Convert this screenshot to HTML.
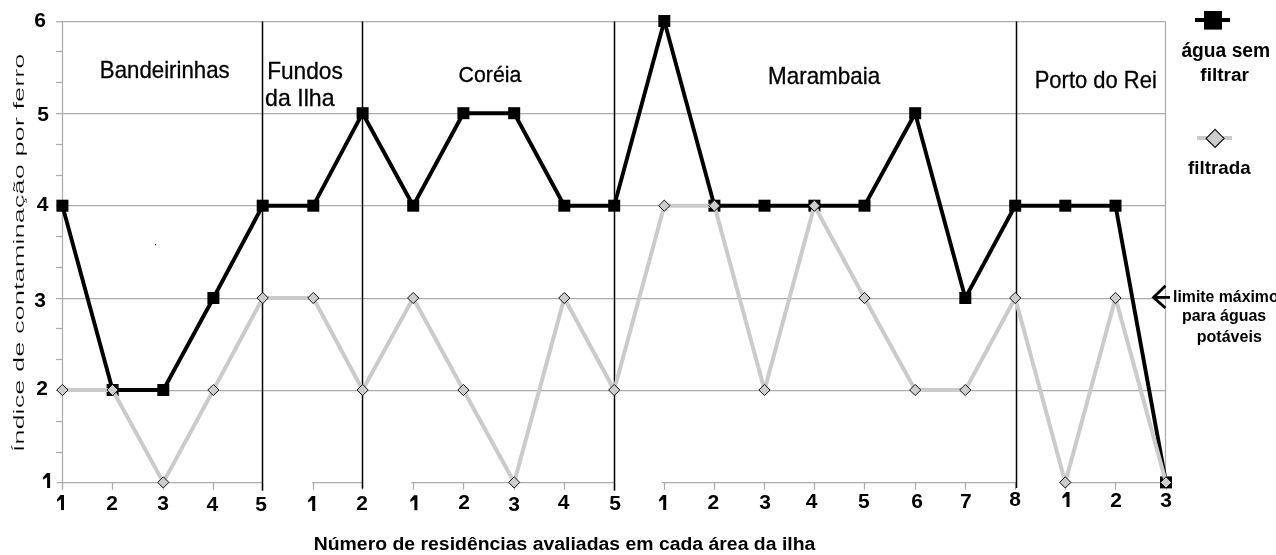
<!DOCTYPE html><html><head><meta charset="utf-8"><style>html,body{margin:0;padding:0;background:#fff;width:1276px;height:555px;overflow:hidden}svg{display:block;will-change:transform}</style></head><body>
<svg width="1276" height="555" viewBox="0 0 1276 555" font-family="&quot;Liberation Sans&quot;, sans-serif">
<rect width="1276" height="555" fill="#fff"/>
<g stroke="#acacac" stroke-width="1.25" fill="none">
<line x1="56.0" y1="390.5" x2="1165.5" y2="390.5"/>
<line x1="56.0" y1="298.5" x2="1165.5" y2="298.5"/>
<line x1="56.0" y1="205.5" x2="1165.5" y2="205.5"/>
<line x1="56.0" y1="113.5" x2="1165.5" y2="113.5"/>
<line x1="56.0" y1="21.5" x2="1165.5" y2="21.5"/>
<line x1="56.0" y1="51.5" x2="62.5" y2="51.5"/>
<line x1="56.0" y1="82.5" x2="62.5" y2="82.5"/>
<line x1="56.0" y1="144.5" x2="62.5" y2="144.5"/>
<line x1="56.0" y1="175.5" x2="62.5" y2="175.5"/>
<line x1="56.0" y1="236.5" x2="62.5" y2="236.5"/>
<line x1="56.0" y1="267.5" x2="62.5" y2="267.5"/>
<line x1="56.0" y1="328.5" x2="62.5" y2="328.5"/>
<line x1="56.0" y1="359.5" x2="62.5" y2="359.5"/>
<line x1="56.0" y1="421.5" x2="62.5" y2="421.5"/>
<line x1="56.0" y1="452.5" x2="62.5" y2="452.5"/>
<line x1="62.5" y1="21.5" x2="62.5" y2="489.7"/>
<line x1="1165.5" y1="21.5" x2="1165.5" y2="482.5"/>
<line x1="56.8" y1="482.5" x2="262.5" y2="482.5"/>
<line x1="312.1" y1="482.5" x2="362.5" y2="482.5"/>
<line x1="411.2" y1="482.5" x2="614.5" y2="482.5"/>
<line x1="661.8" y1="482.5" x2="1016.5" y2="482.5"/>
<line x1="1063.0" y1="482.5" x2="1166.0" y2="482.5"/>
<line x1="62.5" y1="482.5" x2="62.5" y2="489.7"/>
<line x1="112.5" y1="482.5" x2="112.5" y2="489.7"/>
<line x1="163.5" y1="482.5" x2="163.5" y2="489.7"/>
<line x1="213.5" y1="482.5" x2="213.5" y2="489.7"/>
<line x1="262.5" y1="482.5" x2="262.5" y2="489.7"/>
<line x1="313.5" y1="482.5" x2="313.5" y2="489.7"/>
<line x1="362.5" y1="482.5" x2="362.5" y2="489.7"/>
<line x1="413.5" y1="482.5" x2="413.5" y2="489.7"/>
<line x1="463.5" y1="482.5" x2="463.5" y2="489.7"/>
<line x1="514.5" y1="482.5" x2="514.5" y2="489.7"/>
<line x1="564.5" y1="482.5" x2="564.5" y2="489.7"/>
<line x1="614.5" y1="482.5" x2="614.5" y2="489.7"/>
<line x1="664.5" y1="482.5" x2="664.5" y2="489.7"/>
<line x1="714.5" y1="482.5" x2="714.5" y2="489.7"/>
<line x1="764.5" y1="482.5" x2="764.5" y2="489.7"/>
<line x1="814.5" y1="482.5" x2="814.5" y2="489.7"/>
<line x1="864.5" y1="482.5" x2="864.5" y2="489.7"/>
<line x1="915.5" y1="482.5" x2="915.5" y2="489.7"/>
<line x1="965.5" y1="482.5" x2="965.5" y2="489.7"/>
<line x1="1015.5" y1="482.5" x2="1015.5" y2="489.7"/>
<line x1="1065.5" y1="482.5" x2="1065.5" y2="489.7"/>
<line x1="1115.5" y1="482.5" x2="1115.5" y2="489.7"/>
<line x1="1166.5" y1="482.5" x2="1166.5" y2="489.7"/>
</g>
<line x1="262.5" y1="21.5" x2="262.5" y2="490.7" stroke="#000" stroke-width="1.5"/>
<line x1="362.5" y1="21.5" x2="362.5" y2="488.5" stroke="#000" stroke-width="1.5"/>
<line x1="614.5" y1="21.5" x2="614.5" y2="490.7" stroke="#000" stroke-width="1.5"/>
<line x1="1016.5" y1="21.5" x2="1016.5" y2="487.9" stroke="#000" stroke-width="1.5"/>
<polyline points="62.4,205.7 112.6,390.0 163.3,390.0 213.4,298.0 262.7,205.7 313.3,205.7 362.6,113.2 413.2,205.7 463.4,113.2 514.2,113.2 564.3,205.7 614.2,205.7 664.3,21.0 714.4,205.7 764.5,205.7 814.4,205.7 864.5,205.7 915.2,113.2 965.3,298.0 1015.2,205.7 1065.3,205.7 1115.5,205.7 1166.0,482.4" fill="none" stroke="#000" stroke-width="3.9" stroke-linejoin="round"/>
<rect x="56.4" y="199.7" width="12" height="12" fill="#000"/>
<rect x="106.6" y="384.0" width="12" height="12" fill="#000"/>
<rect x="157.3" y="384.0" width="12" height="12" fill="#000"/>
<rect x="207.4" y="292.0" width="12" height="12" fill="#000"/>
<rect x="256.7" y="199.7" width="12" height="12" fill="#000"/>
<rect x="307.3" y="199.7" width="12" height="12" fill="#000"/>
<rect x="356.6" y="107.2" width="12" height="12" fill="#000"/>
<rect x="407.2" y="199.7" width="12" height="12" fill="#000"/>
<rect x="457.4" y="107.2" width="12" height="12" fill="#000"/>
<rect x="508.2" y="107.2" width="12" height="12" fill="#000"/>
<rect x="558.3" y="199.7" width="12" height="12" fill="#000"/>
<rect x="608.2" y="199.7" width="12" height="12" fill="#000"/>
<rect x="658.3" y="15.0" width="12" height="12" fill="#000"/>
<rect x="708.4" y="199.7" width="12" height="12" fill="#000"/>
<rect x="758.5" y="199.7" width="12" height="12" fill="#000"/>
<rect x="808.4" y="199.7" width="12" height="12" fill="#000"/>
<rect x="858.5" y="199.7" width="12" height="12" fill="#000"/>
<rect x="909.2" y="107.2" width="12" height="12" fill="#000"/>
<rect x="959.3" y="292.0" width="12" height="12" fill="#000"/>
<rect x="1009.2" y="199.7" width="12" height="12" fill="#000"/>
<rect x="1059.3" y="199.7" width="12" height="12" fill="#000"/>
<rect x="1109.5" y="199.7" width="12" height="12" fill="#000"/>
<rect x="1160.0" y="476.4" width="12" height="12" fill="#000"/>
<polyline points="62.4,390.0 112.6,390.0 163.3,482.4 213.4,390.0 262.7,298.0 313.3,298.0 362.6,390.0 413.2,298.0 463.4,390.0 514.2,482.4 564.3,298.0 614.2,390.0 664.3,205.7 714.4,205.7 764.5,390.0 814.4,205.7 864.5,298.0 915.2,390.0 965.3,390.0 1015.2,298.0 1065.3,482.4 1115.5,298.0 1166.0,482.4" fill="none" stroke="#cbcbcb" stroke-width="4" stroke-linejoin="round"/>
<polygon points="62.4,384.4 68.0,390.0 62.4,395.6 56.8,390.0" fill="#cdcdcd" stroke="#111" stroke-width="1.0"/>
<polygon points="112.6,384.4 118.2,390.0 112.6,395.6 107.0,390.0" fill="#cdcdcd" stroke="#111" stroke-width="1.0"/>
<polygon points="163.3,476.8 168.9,482.4 163.3,488.0 157.7,482.4" fill="#cdcdcd" stroke="#111" stroke-width="1.0"/>
<polygon points="213.4,384.4 219.0,390.0 213.4,395.6 207.8,390.0" fill="#cdcdcd" stroke="#111" stroke-width="1.0"/>
<polygon points="262.7,292.4 268.3,298.0 262.7,303.6 257.1,298.0" fill="#cdcdcd" stroke="#111" stroke-width="1.0"/>
<polygon points="313.3,292.4 318.9,298.0 313.3,303.6 307.7,298.0" fill="#cdcdcd" stroke="#111" stroke-width="1.0"/>
<polygon points="362.6,384.4 368.2,390.0 362.6,395.6 357.0,390.0" fill="#cdcdcd" stroke="#111" stroke-width="1.0"/>
<polygon points="413.2,292.4 418.8,298.0 413.2,303.6 407.6,298.0" fill="#cdcdcd" stroke="#111" stroke-width="1.0"/>
<polygon points="463.4,384.4 469.0,390.0 463.4,395.6 457.8,390.0" fill="#cdcdcd" stroke="#111" stroke-width="1.0"/>
<polygon points="514.2,476.8 519.8,482.4 514.2,488.0 508.6,482.4" fill="#cdcdcd" stroke="#111" stroke-width="1.0"/>
<polygon points="564.3,292.4 569.9,298.0 564.3,303.6 558.7,298.0" fill="#cdcdcd" stroke="#111" stroke-width="1.0"/>
<polygon points="614.2,384.4 619.8,390.0 614.2,395.6 608.6,390.0" fill="#cdcdcd" stroke="#111" stroke-width="1.0"/>
<polygon points="664.3,200.1 669.9,205.7 664.3,211.3 658.7,205.7" fill="#cdcdcd" stroke="#111" stroke-width="1.0"/>
<polygon points="714.4,200.1 720.0,205.7 714.4,211.3 708.8,205.7" fill="#cdcdcd" stroke="#111" stroke-width="1.0"/>
<polygon points="764.5,384.4 770.1,390.0 764.5,395.6 758.9,390.0" fill="#cdcdcd" stroke="#111" stroke-width="1.0"/>
<polygon points="814.4,200.1 820.0,205.7 814.4,211.3 808.8,205.7" fill="#cdcdcd" stroke="#111" stroke-width="1.0"/>
<polygon points="864.5,292.4 870.1,298.0 864.5,303.6 858.9,298.0" fill="#cdcdcd" stroke="#111" stroke-width="1.0"/>
<polygon points="915.2,384.4 920.8,390.0 915.2,395.6 909.6,390.0" fill="#cdcdcd" stroke="#111" stroke-width="1.0"/>
<polygon points="965.3,384.4 970.9,390.0 965.3,395.6 959.7,390.0" fill="#cdcdcd" stroke="#111" stroke-width="1.0"/>
<polygon points="1015.2,292.4 1020.8,298.0 1015.2,303.6 1009.6,298.0" fill="#cdcdcd" stroke="#111" stroke-width="1.0"/>
<polygon points="1065.3,476.8 1070.9,482.4 1065.3,488.0 1059.7,482.4" fill="#cdcdcd" stroke="#111" stroke-width="1.0"/>
<polygon points="1115.5,292.4 1121.1,298.0 1115.5,303.6 1109.9,298.0" fill="#cdcdcd" stroke="#111" stroke-width="1.0"/>
<polygon points="1166.0,476.8 1171.6,482.4 1166.0,488.0 1160.4,482.4" fill="#cdcdcd" stroke="#111" stroke-width="1.0"/>
<text x="40.0" y="27.4" text-anchor="middle" font-weight="bold" font-size="21">6</text>
<text x="43.1" y="121.4" text-anchor="middle" font-weight="bold" font-size="21">5</text>
<text x="42.5" y="211.3" text-anchor="middle" font-weight="bold" font-size="21">4</text>
<text x="40.0" y="306.5" text-anchor="middle" font-weight="bold" font-size="21">3</text>
<text x="42.1" y="395.3" text-anchor="middle" font-weight="bold" font-size="21">2</text>
<path transform="translate(43.1,488.0)" d="M7,-15 L7,0 L4,0 L4,-10.8 L0,-8.3 L0,-10.8 L3.6,-15 Z" fill="#000"/>
<path transform="translate(57.0,510.0)" d="M7,-15 L7,0 L4,0 L4,-10.8 L0,-8.3 L0,-10.8 L3.6,-15 Z" fill="#000"/>
<text x="112.2" y="510.4" text-anchor="middle" font-weight="bold" font-size="21">2</text>
<text x="163.0" y="510.4" text-anchor="middle" font-weight="bold" font-size="21">3</text>
<text x="212.4" y="510.5" text-anchor="middle" font-weight="bold" font-size="21">4</text>
<text x="261.1" y="511.2" text-anchor="middle" font-weight="bold" font-size="21">5</text>
<path transform="translate(308.2,510.9)" d="M7,-15 L7,0 L4,0 L4,-10.8 L0,-8.3 L0,-10.8 L3.6,-15 Z" fill="#000"/>
<text x="362.0" y="510.0" text-anchor="middle" font-weight="bold" font-size="21">2</text>
<path transform="translate(410.4,510.2)" d="M7,-15 L7,0 L4,0 L4,-10.8 L0,-8.3 L0,-10.8 L3.6,-15 Z" fill="#000"/>
<text x="464.2" y="508.8" text-anchor="middle" font-weight="bold" font-size="21">2</text>
<text x="514.2" y="510.5" text-anchor="middle" font-weight="bold" font-size="21">3</text>
<text x="563.5" y="509.4" text-anchor="middle" font-weight="bold" font-size="21">4</text>
<text x="615.1" y="510.2" text-anchor="middle" font-weight="bold" font-size="21">5</text>
<path transform="translate(659.2,510.0)" d="M7,-15 L7,0 L4,0 L4,-10.8 L0,-8.3 L0,-10.8 L3.6,-15 Z" fill="#000"/>
<text x="713.3" y="508.6" text-anchor="middle" font-weight="bold" font-size="21">2</text>
<text x="765.0" y="508.5" text-anchor="middle" font-weight="bold" font-size="21">3</text>
<text x="811.7" y="507.5" text-anchor="middle" font-weight="bold" font-size="21">4</text>
<text x="863.9" y="507.6" text-anchor="middle" font-weight="bold" font-size="21">5</text>
<text x="917.0" y="508.4" text-anchor="middle" font-weight="bold" font-size="21">6</text>
<text x="965.9" y="507.5" text-anchor="middle" font-weight="bold" font-size="21">7</text>
<text x="1015.0" y="506.3" text-anchor="middle" font-weight="bold" font-size="21">8</text>
<path transform="translate(1062.5,507.0)" d="M7,-15 L7,0 L4,0 L4,-10.8 L0,-8.3 L0,-10.8 L3.6,-15 Z" fill="#000"/>
<text x="1116.1" y="506.7" text-anchor="middle" font-weight="bold" font-size="21">2</text>
<text x="1166.2" y="506.7" text-anchor="middle" font-weight="bold" font-size="21">3</text>
<text transform="translate(99.87,77.80) scale(0.9667,1)" font-weight="normal" font-size="23" stroke="#000" stroke-width="0.3">Bandeirinhas</text>
<text transform="translate(267.13,78.80) scale(0.9865,1)" font-weight="normal" font-size="23" stroke="#000" stroke-width="0.3">Fundos</text>
<text transform="translate(265.09,105.50) scale(1.0059,1)" font-weight="normal" font-size="23" stroke="#000" stroke-width="0.3">da Ilha</text>
<text transform="translate(458.53,81.80) scale(0.9703,1)" font-weight="normal" font-size="22" stroke="#000" stroke-width="0.3">Coréia</text>
<text transform="translate(768.05,83.70) scale(0.9752,1)" font-weight="normal" font-size="23" stroke="#000" stroke-width="0.3">Marambaia</text>
<text transform="translate(1034.69,87.70) scale(0.9560,1)" font-weight="normal" font-size="23" stroke="#000" stroke-width="0.3">Porto do Rei</text>
<text transform="translate(1181.40,56.50) scale(0.9876,1)" font-weight="bold" font-size="19.5">água sem</text>
<text transform="translate(1200.30,81.40) scale(1.0298,1)" font-weight="bold" font-size="18.5">filtrar</text>
<text transform="translate(1188.10,173.50) scale(0.9891,1)" font-weight="bold" font-size="19">filtrada</text>
<text transform="translate(1173.01,301.70) scale(0.9905,1)" font-weight="bold" font-size="16">limite máximo</text>
<text transform="translate(1182.00,321.00) scale(0.9976,1)" font-weight="bold" font-size="16">para águas</text>
<text transform="translate(1196.70,341.50) scale(1.0048,1)" font-weight="bold" font-size="16">potáveis</text>
<text transform="translate(313.75,549.70) scale(1.0495,1)" font-weight="bold" font-size="18.5">Número de residências avaliadas em cada área da ilha</text>
<text transform="translate(23.60,452.36) rotate(-90) scale(1.7609,1)" font-size="15.5" stroke="#fff" stroke-width="0.2">Índice de contaminação por ferro</text>
<rect x="155" y="244" width="1.2" height="1.2" fill="#111"/>
<line x1="1195" y1="20" x2="1230" y2="20" stroke="#000" stroke-width="4"/>
<rect x="1204" y="11" width="18" height="18.6" fill="#000"/>
<line x1="1197" y1="138" x2="1232" y2="138" stroke="#cbcbcb" stroke-width="4"/>
<polygon points="1215.1,129.3 1224.1,138.4 1215.1,147.5 1206.1,138.4" fill="#cdcdcd" stroke="#111" stroke-width="1.2"/>
<path d="M1165.4,285.7 L1153.5,297.4 L1165.4,308 M1153.5,297.4 L1170,297.4" fill="none" stroke="#000" stroke-width="2.8"/>
</svg></body></html>
